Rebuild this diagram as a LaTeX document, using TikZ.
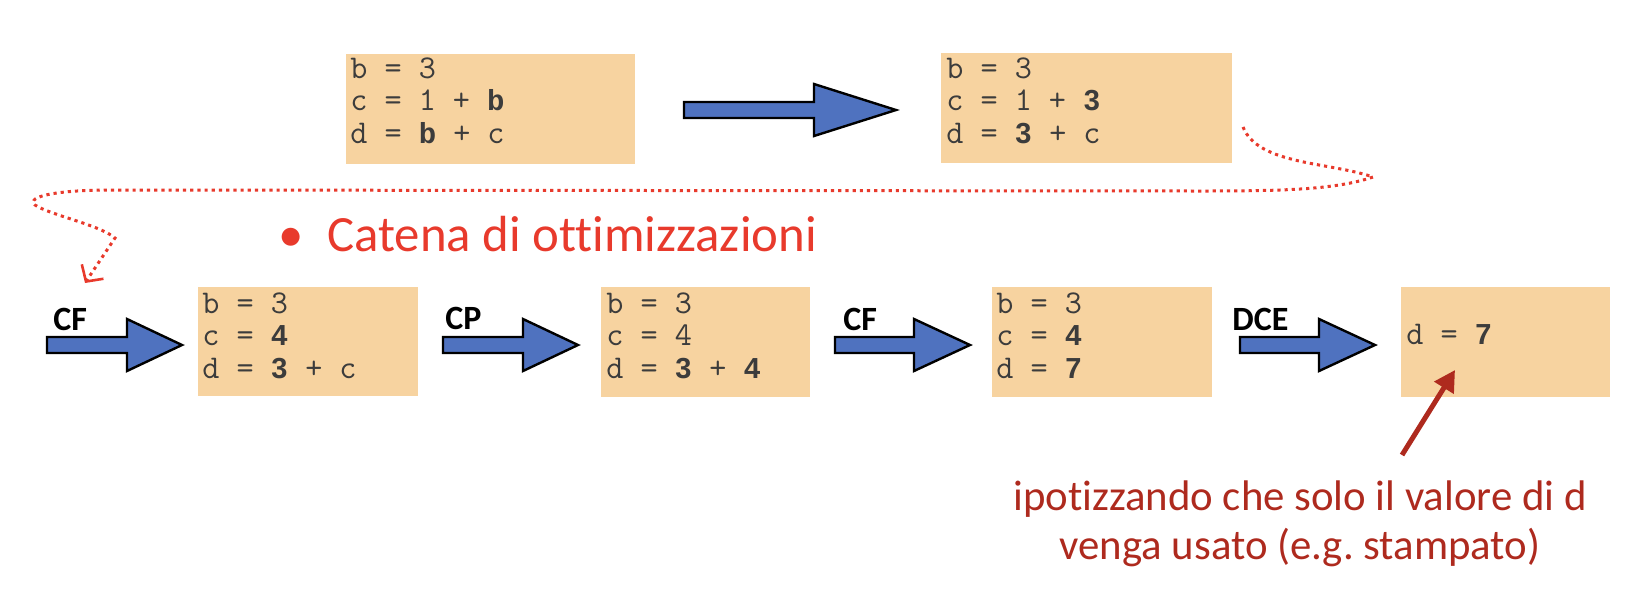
\documentclass[tikz,border=0pt]{standalone}
\usepackage{fontspec}
\setmainfont{Carlito}[Ligatures=NoCommon]
\newfontfamily\codefont{Liberation Mono}
\newfontfamily\digfont{Liberation Sans}
\usetikzlibrary{arrows.meta}
\definecolor{boxfill}{HTML}{F7D3A0}
\definecolor{arrowblue}{HTML}{4F72BF}
\definecolor{bulletred}{HTML}{E83A2C}
\definecolor{notered}{HTML}{AE2A1E}
\definecolor{codegray}{HTML}{3C3C3C}
\frenchspacing
\newcommand\hlb[1]{\makebox[0.525em]{\codefont\bfseries\fontsize{14.5pt}{16.25pt}\selectfont #1}}
\newcommand\hld[1]{\makebox[0.525em]{\digfont\bfseries\fontsize{14.5pt}{16.25pt}\selectfont #1}}
\newcommand\codelines[1]{\parbox[t]{140pt}{\ttfamily\fontsize{16.6pt}{16.25pt}\selectfont #1}}
\newcommand\blockarrow[4]{\draw[barrow] (#1,#4-8) -- (#2,#4-8) -- (#2,#4-26) -- (#3,#4) -- (#2,#4+26) -- (#2,#4+8) -- (#1,#4+8) -- cycle;}
\begin{document}
\begin{tikzpicture}[x=0.5pt,y=-0.5pt,
  box/.style={fill=boxfill, draw=none, inner sep=0pt, anchor=north west},
  code/.style={inner sep=0pt, anchor=base west, text=codegray},
  barrow/.style={fill=arrowblue, draw=black, line width=1.2pt, line join=miter},
  oplabel/.style={font=\bfseries\fontsize{17pt}{20pt}\selectfont, inner sep=0pt, anchor=base west},
  dotlink/.style={draw=bulletred, line width=1.5pt, dash pattern=on 1.6pt off 2pt, -{Straight Barb[length=6pt,width=13pt,line width=1.3pt]}},
  notearrow/.style={draw=notered, line width=2.5pt, -{Triangle[length=10.5pt,width=11pt]}}]
\useasboundingbox (0,0) rectangle (1628,596);

% top row
\node[box, minimum width=144.5pt, minimum height=55pt] (b1) at (346,54) {};
\node[code] (t1) at (350,78) {\codelines{b = 3\\c = 1 + \hlb{b}\\d = \hlb{b} + c}};
\blockarrow{684}{814}{896}{110}
\node[box, minimum width=145.5pt, minimum height=55pt] (b2) at (941,53) {};
\node[code] (t2) at (946,78) {\codelines{b = 3\\c = 1 + \hld{3}\\d = \hld{3} + c}};

% dotted link
\coordinate (dstart) at (1243,127);
\coordinate (dend) at (85,283);
\draw[dotlink] (dstart) .. controls (1258,165) and (1330,162) .. (1373,177)
  .. controls (1335,190) and (1280,191) .. (1200,191) -- (110,190)
  .. controls (60,190) and (25,196) .. (35,205)
  .. controls (50,215) and (100,225) .. (115,238) -- (dend);

% bullet title
\node[inner sep=0pt, anchor=base, text=bulletred, font=\fontsize{25.4pt}{30pt}\selectfont] (bul) at (291,251) {\textbullet};
\node[inner sep=0pt, anchor=base west, text=bulletred, font=\fontsize{25.4pt}{30pt}\selectfont] (title) at (327,251) {Catena di ottimizzazioni};

% second row
\blockarrow{47}{127}{182}{345}
\node[oplabel] (l1) at (53,330) {CF};
\node[box, minimum width=110pt, minimum height=54.5pt] (r1) at (198,287) {};
\node[code] (s1) at (202,313) {\codelines{b = 3\\c = \hld{4}\\d = \hld{3} + c}};

\blockarrow{443}{523}{578}{345}
\node[oplabel] (l2) at (445,329) {CP};
\node[box, minimum width=104.5pt, minimum height=55pt] (r2) at (601,287) {};
\node[code] (s2) at (606,313) {\codelines{b = 3\\c = 4\\d = \hld{3} + \hld{4}}};

\blockarrow{835}{914}{970}{345}
\node[oplabel] (l3) at (843,330) {CF};
\node[box, minimum width=110pt, minimum height=55pt] (r3) at (992,287) {};
\node[code] (s3) at (996,313) {\codelines{b = 3\\c = \hld{4}\\d = \hld{7}}};

\blockarrow{1240}{1319}{1375}{345}
\node[oplabel] (l4) at (1232,330) {DCE};
\node[box, minimum width=104.5pt, minimum height=55pt] (r4) at (1401,287) {};
\node[code] (s4) at (1406,344) {\codelines{d = \hld{7}}};

% note
\node[inner sep=0pt, anchor=base, text=notered, font=\fontsize{21.4pt}{24.5pt}\selectfont] (note) at (1300,510)
  {\parbox[t]{320pt}{\centering ipotizzando che solo il valore di d\\venga usato (e.g. stampato)}};
\coordinate (pstart) at (1402,455);
\coordinate (ptip) at (1455,370);
\draw[notearrow] (pstart) -- (ptip);
\end{tikzpicture}
\end{document}
